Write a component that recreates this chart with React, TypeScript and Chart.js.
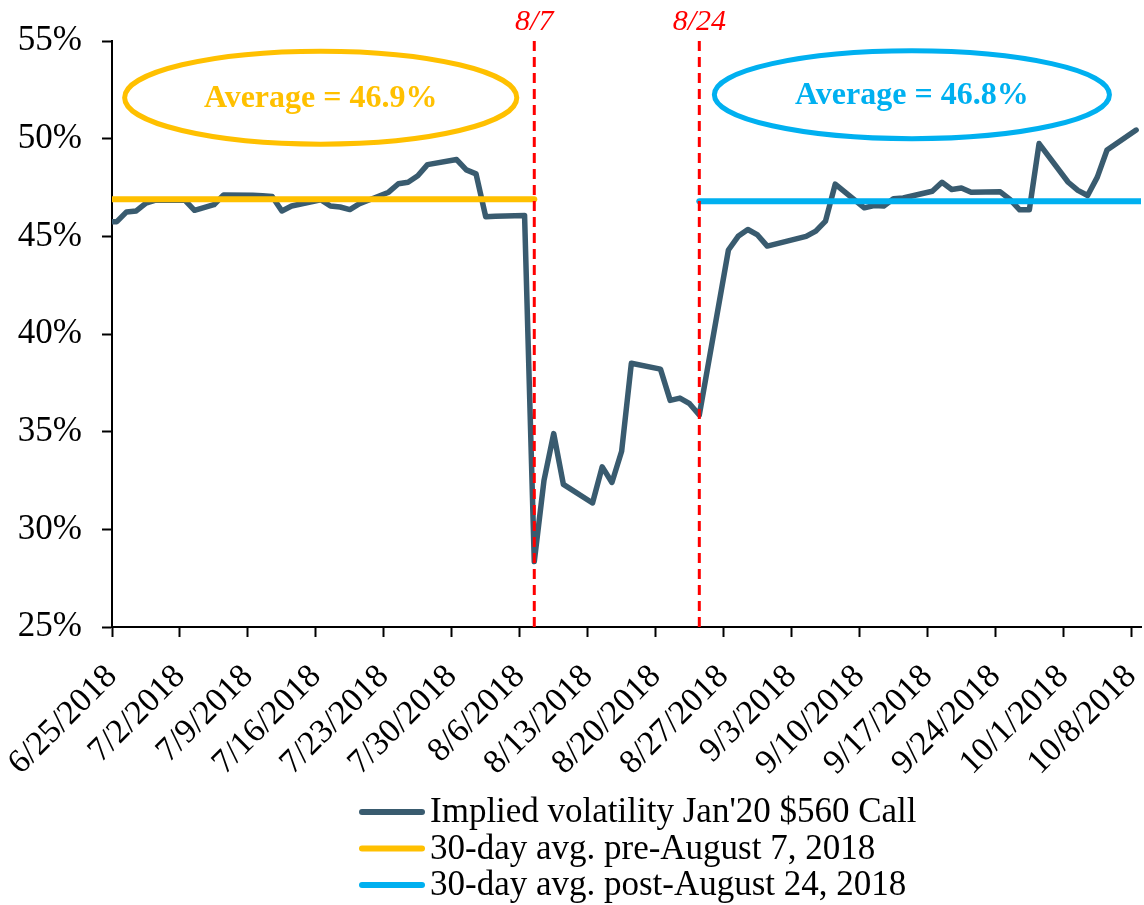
import React, { useEffect, useRef } from "react";
import { Chart, registerables } from "chart.js";

Chart.register(...registerables);

// ---------- data ----------
const tradeDates: string[] = [
  "6/22/2018",
  "6/25/2018", "6/26/2018", "6/27/2018", "6/28/2018", "6/29/2018",
  "7/2/2018", "7/3/2018", "7/5/2018", "7/6/2018",
  "7/9/2018", "7/10/2018", "7/11/2018", "7/12/2018", "7/13/2018",
  "7/16/2018", "7/17/2018", "7/18/2018", "7/19/2018", "7/20/2018",
  "7/23/2018", "7/24/2018", "7/25/2018", "7/26/2018", "7/27/2018",
  "7/30/2018", "7/31/2018", "8/1/2018", "8/2/2018", "8/3/2018",
  "8/6/2018", "8/7/2018", "8/8/2018", "8/9/2018", "8/10/2018",
  "8/13/2018", "8/14/2018", "8/15/2018", "8/16/2018", "8/17/2018",
  "8/20/2018", "8/21/2018", "8/22/2018", "8/23/2018", "8/24/2018",
  "8/27/2018", "8/28/2018", "8/29/2018", "8/30/2018", "8/31/2018",
  "9/4/2018", "9/5/2018", "9/6/2018", "9/7/2018",
  "9/10/2018", "9/11/2018", "9/12/2018", "9/13/2018", "9/14/2018",
  "9/17/2018", "9/18/2018", "9/19/2018", "9/20/2018", "9/21/2018",
  "9/24/2018", "9/25/2018", "9/26/2018", "9/27/2018", "9/28/2018",
  "10/1/2018", "10/2/2018", "10/3/2018", "10/4/2018", "10/5/2018",
  "10/8/2018",
];

const impliedVol: number[] = [
  45.7,
  45.75, 46.25, 46.3, 46.7, 46.85,
  46.85, 46.33, 46.62, 47.12,
  47.1, 47.08, 47.04, 46.3, 46.55,
  46.87, 46.55, 46.5, 46.37, 46.67,
  47.26, 47.69, 47.77, 48.1, 48.67,
  48.93, 48.4, 48.2, 46.0, 46.03,
  46.07, 28.35, 32.5, 34.9, 32.3,
  31.35, 33.2, 32.4, 34.0, 38.5,
  38.2, 36.6, 36.72, 36.43, 35.85,
  44.3, 45.0, 45.35, 45.07, 44.5,
  45.0, 45.27, 45.78, 47.67,
  46.46, 46.58, 46.55, 46.92, 46.96,
  47.31, 47.77, 47.4, 47.47, 47.26,
  47.28, 46.89, 46.36, 46.36, 49.75,
  47.77, 47.35, 47.09, 48.03, 49.42,
  50.44,
];

const preAvgRange: string[] = ["6/22/2018", "8/7/2018"];
const preAvgValue = 46.9;
const postAvgRange: string[] = ["8/24/2018", "10/9/2018"];
const postAvgValue = 46.8;

const eventDates: string[] = ["8/7/2018", "8/24/2018"];
const eventLabels: string[] = ["8/7", "8/24"];

const seriesLabels: string[] = [
  "Implied volatility Jan'20 $560 Call",
  "30-day avg. pre-August 7, 2018",
  "30-day avg. post-August 24, 2018",
];

const axisStart = "6/25/2018";
const axisEnd = "10/9/2018";
const yMin = 25;
const yMax = 55;
const yStep = 5;
const xStepDays = 7;

// ---------- helpers ----------
function parseDate(s: string): number {
  const [m, d, y] = s.split("/").map(Number);
  return Date.UTC(y, m - 1, d);
}
const BASE = parseDate(axisStart);
const DAY = 86400000;
function dayIdx(s: string): number {
  return Math.round((parseDate(s) - BASE) / DAY);
}
// points are centred in their day slot (Excel "between tick marks")
function dayPos(s: string): number {
  return dayIdx(s) + 0.5;
}
function dayLabel(i: number): string {
  const dt = new Date(BASE + Math.round(i) * DAY);
  return `${dt.getUTCMonth() + 1}/${dt.getUTCDate()}/${dt.getUTCFullYear()}`;
}

const FONT = '"Liberation Serif", "Times New Roman", serif';
const COL_LINE = "#395B6F";
const COL_PRE = "#FFC000";
const COL_POST = "#00B0F0";
const COL_EVENT = "#FF0000";

// annotation ellipses (in data units: days from axis start, percent)
const ellipses = [
  { text: "Average = 46.9%", color: COL_PRE, cx: 21.5, cy: 52.1, rx: 20.2, ry: 2.38 },
  { text: "Average = 46.8%", color: COL_POST, cx: 82.4, cy: 52.25, rx: 20.35, ry: 2.25 },
];

const annotationPlugin = {
  id: "annotations",
  afterDatasetsDraw(chart: any) {
    const { ctx, chartArea } = chart;
    const xs = chart.scales.x;
    const ys = chart.scales.y;
    ctx.save();
    ellipses.forEach((e) => {
      const cx = xs.getPixelForValue(e.cx);
      const cy = ys.getPixelForValue(e.cy);
      const rx = Math.abs(xs.getPixelForValue(e.cx + e.rx) - cx);
      const ry = Math.abs(ys.getPixelForValue(e.cy + e.ry) - cy);
      ctx.beginPath();
      ctx.ellipse(cx, cy, rx, ry, 0, 0, Math.PI * 2);
      ctx.lineWidth = 5;
      ctx.strokeStyle = e.color;
      ctx.stroke();
      ctx.font = `bold 32px ${FONT}`;
      ctx.fillStyle = e.color;
      ctx.textAlign = "center";
      ctx.textBaseline = "middle";
      ctx.fillText(e.text, cx, cy + 1);
    });
    eventDates.forEach((d, i) => {
      const x = xs.getPixelForValue(dayPos(d));
      ctx.font = `italic 30px ${FONT}`;
      ctx.fillStyle = COL_EVENT;
      ctx.textAlign = "center";
      ctx.textBaseline = "alphabetic";
      ctx.fillText(eventLabels[i], x, chartArea.top - 11);
    });
    ctx.restore();
  },
};

const LEGEND_LEFT = 362;
const LEGEND_TOP = 812;
const LEGEND_ROW = 36.5;

const legendPlugin = {
  id: "columnLegend",
  afterDraw(chart: any) {
    const { ctx } = chart;
    const items = chart.data.datasets.filter((d: any) => d.inLegend);
    ctx.save();
    items.forEach((ds: any, i: number) => {
      const y = LEGEND_TOP + i * LEGEND_ROW;
      ctx.beginPath();
      ctx.moveTo(LEGEND_LEFT, y);
      ctx.lineTo(LEGEND_LEFT + 60, y);
      ctx.lineWidth = 6;
      ctx.lineCap = "round";
      ctx.strokeStyle = ds.borderColor;
      ctx.stroke();
      ctx.font = `35px ${FONT}`;
      ctx.fillStyle = "#000";
      ctx.textAlign = "left";
      ctx.textBaseline = "middle";
      ctx.fillText(ds.label, LEGEND_LEFT + 68, y + 1);
    });
    ctx.restore();
  },
};

export default function App() {
  const ref = useRef<HTMLCanvasElement | null>(null);

  useEffect(() => {
    if (!ref.current) return;
    Chart.defaults.font.family = FONT;

    const mainData = tradeDates.map((d, i) => ({ x: dayPos(d), y: impliedVol[i] }));
    const preData = preAvgRange.map((d) => ({ x: dayPos(d), y: preAvgValue }));
    const postData = postAvgRange.map((d) => ({ x: dayPos(d), y: postAvgValue }));

    const eventSets = eventDates.map((d) => ({
      label: "event " + d,
      data: [
        { x: dayPos(d), y: yMin },
        { x: dayPos(d), y: yMax },
      ],
      borderColor: COL_EVENT,
      borderWidth: 3,
      borderDash: [10, 6],
      pointRadius: 0,
      order: 1,
      inLegend: false,
    }));

    const chart = new Chart(ref.current, {
      type: "line",
      data: {
        datasets: [
          {
            label: seriesLabels[0],
            data: mainData,
            borderColor: COL_LINE,
            borderWidth: 5.5,
            pointRadius: 0,
            tension: 0,
            borderJoinStyle: "round",
            borderCapStyle: "round",
            order: 4,
            inLegend: true,
          } as any,
          {
            label: seriesLabels[1],
            data: preData,
            borderColor: COL_PRE,
            borderWidth: 6,
            pointRadius: 0,
            borderCapStyle: "round",
            order: 3,
            inLegend: true,
          } as any,
          {
            label: seriesLabels[2],
            data: postData,
            borderColor: COL_POST,
            borderWidth: 6,
            pointRadius: 0,
            borderCapStyle: "round",
            order: 3,
            inLegend: true,
          } as any,
          ...(eventSets as any[]),
        ],
      },
      options: {
        animation: false,
        responsive: false,
        devicePixelRatio: 1,
        events: [],
        layout: { padding: { top: 41, left: 0, right: 3, bottom: 0 } },
        plugins: {
          legend: { display: false },
          tooltip: { enabled: false },
        },
        scales: {
          x: {
            type: "linear",
            min: 0,
            max: dayIdx(axisEnd),
            border: { display: true, color: "#000", width: 2 },
            grid: {
              display: true,
              drawOnChartArea: false,
              drawTicks: true,
              tickLength: 10,
              tickWidth: 2,
              tickColor: "#000",
            },
            ticks: {
              stepSize: xStepDays,
              includeBounds: false,
              autoSkip: false,
              minRotation: 45,
              maxRotation: 45,
              padding: 20,
              color: "#000",
              font: { size: 34, family: FONT },
              callback: (v: any) => dayLabel(Number(v)),
            },
            afterFit: (s: any) => {
              s.height = 278;
              s.paddingLeft = 0;
              s.paddingRight = 0;
            },
          },
          y: {
            type: "linear",
            min: yMin,
            max: yMax,
            border: { display: true, color: "#000", width: 2 },
            grid: {
              display: true,
              drawOnChartArea: false,
              drawTicks: true,
              tickLength: 10,
              tickWidth: 2,
              tickColor: "#000",
            },
            ticks: {
              stepSize: yStep,
              padding: 20,
              color: "#000",
              font: { size: 35, family: FONT },
              callback: (v: any) => `${v}%`,
            },
            afterFit: (s: any) => {
              s.width = 112;
            },
          },
        },
      } as any,
      plugins: [annotationPlugin, legendPlugin],
    });

    return () => chart.destroy();
  }, []);

  return (
    <div style={{ position: "absolute", left: 0, top: 0, width: 1144, height: 905, background: "#fff" }}>
      <canvas ref={ref} width={1144} height={905} style={{ display: "block" }} />
    </div>
  );
}
